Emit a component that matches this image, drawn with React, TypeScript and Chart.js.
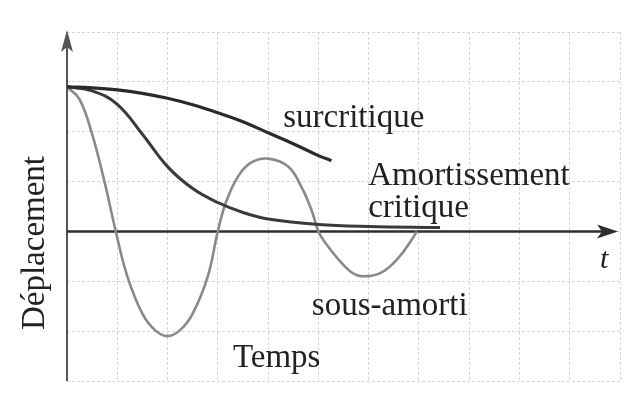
import React, { useEffect, useRef } from "react";
import { Chart, registerables } from "chart.js";

Chart.register(...registerables);

// Time samples (grid units) and displacement values
const surcritiqueT = [0, 0.5, 1, 1.5, 2, 2.5, 3, 3.5, 4, 4.5, 5, 5.26];
const surcritiqueY = [2.9, 2.88, 2.84, 2.77, 2.67, 2.54, 2.38, 2.2, 1.98, 1.76, 1.52, 1.42];

const critiqueT = [0, 0.5, 1, 1.5, 2, 2.5, 3, 3.5, 4, 5, 6, 7.42];
const critiqueY = [2.9, 2.82, 2.55, 1.95, 1.3, 0.86, 0.58, 0.38, 0.25, 0.14, 0.1, 0.08];

const sousAmortiT = [
  0, 0.25, 0.5, 0.75, 0.97, 1.2, 1.5, 1.75, 2.0, 2.25, 2.5, 2.8, 3.0, 3.16, 3.4, 3.66, 4.0,
  4.4, 4.66, 4.86, 5.0, 5.12, 5.4, 5.66, 5.9, 6.26, 6.6, 6.86, 6.96,
];
const sousAmortiY = [
  2.9, 2.65, 1.95, 0.98, 0, -0.9, -1.65, -1.98, -2.1, -1.98, -1.65, -0.9, 0, 0.58, 1.1, 1.38, 1.46,
  1.3, 0.9, 0.44, 0, -0.2, -0.56, -0.82, -0.9, -0.82, -0.52, -0.16, 0,
];

const xMin = 0;
const xMax = 11;
const yMin = -3;
const yMax = 4;

const curveLabels = [
  { text: "surcritique", t: 4.3, y: 2.1 },
  { text: "Amortissement", t: 5.99, y: 0.93 },
  { text: "critique", t: 5.99, y: 0.29 },
  { text: "sous-amorti", t: 4.87, y: -1.67 },
  { text: "Temps", t: 3.3, y: -2.72 },
];
const yAxisTitle = "Déplacement";
const xAxisSymbol = "t";

const toPoints = (ts: number[], ys: number[]) => ts.map((t, i) => ({ x: t, y: ys[i] }));

export default function App() {
  const ref = useRef<HTMLCanvasElement | null>(null);

  useEffect(() => {
    if (!ref.current) return;

    const axesPlugin = {
      id: "axesArrows",
      beforeDatasetsDraw(chart: any) {
        const { ctx, chartArea, scales } = chart;
        const x0 = scales.x.getPixelForValue(0);
        const y0 = scales.y.getPixelForValue(0);
        ctx.save();
        // y axis
        ctx.strokeStyle = "#555";
        ctx.fillStyle = "#555";
        ctx.lineWidth = 2;
        ctx.beginPath();
        ctx.moveTo(x0, chartArea.bottom);
        ctx.lineTo(x0, chartArea.top + 12);
        ctx.stroke();
        ctx.beginPath();
        ctx.moveTo(x0, chartArea.top - 2);
        ctx.lineTo(x0 - 6, chartArea.top + 20);
        ctx.lineTo(x0, chartArea.top + 15);
        ctx.lineTo(x0 + 6, chartArea.top + 20);
        ctx.closePath();
        ctx.fill();
        // x axis
        ctx.strokeStyle = "#2e2e2e";
        ctx.fillStyle = "#2e2e2e";
        ctx.lineWidth = 2.4;
        const tip = chartArea.right - 2;
        ctx.beginPath();
        ctx.moveTo(x0, y0);
        ctx.lineTo(tip - 10, y0);
        ctx.stroke();
        ctx.beginPath();
        ctx.moveTo(tip, y0);
        ctx.lineTo(tip - 21, y0 - 7);
        ctx.lineTo(tip - 16, y0);
        ctx.lineTo(tip - 21, y0 + 7);
        ctx.closePath();
        ctx.fill();
        ctx.restore();
      },
      afterDraw(chart: any) {
        const { ctx, scales } = chart;
        ctx.save();
        ctx.fillStyle = "#222";
        ctx.font = "33px 'Liberation Serif'";
        ctx.textAlign = "left";
        ctx.textBaseline = "alphabetic";
        curveLabels.forEach((l) => {
          ctx.fillText(l.text, scales.x.getPixelForValue(l.t), scales.y.getPixelForValue(l.y));
        });
        ctx.font = "italic 30px 'Liberation Serif'";
        ctx.fillText(xAxisSymbol, 600, scales.y.getPixelForValue(-0.73));
        ctx.translate(44, 243);
        ctx.rotate(-Math.PI / 2);
        ctx.textAlign = "center";
        ctx.font = "33px 'Liberation Serif'";
        ctx.fillText(yAxisTitle, 0, 0);
        ctx.restore();
      },
    };

    const chart = new Chart(ref.current, {
      type: "line",
      data: {
        datasets: [
          {
            label: "surcritique",
            data: toPoints(surcritiqueT, surcritiqueY),
            borderColor: "#2a2a2a",
            borderWidth: 3.2,
            pointRadius: 0,
            tension: 0.4,
            order: 1,
          },
          {
            label: "critique",
            data: toPoints(critiqueT, critiqueY),
            borderColor: "#3a3a3a",
            borderWidth: 3,
            pointRadius: 0,
            tension: 0.4,
            order: 2,
          },
          {
            label: "sous-amorti",
            data: toPoints(sousAmortiT, sousAmortiY),
            borderColor: "#8a8a8a",
            borderWidth: 2.6,
            pointRadius: 0,
            tension: 0.4,
            order: 3,
          },
        ],
      },
      options: {
        animation: false,
        responsive: false,
        devicePixelRatio: 1,
        layout: { padding: { left: 67, right: 17, top: 32, bottom: 20 } },
        plugins: { legend: { display: false }, tooltip: { enabled: false } },
        scales: {
          x: {
            type: "linear",
            min: xMin,
            max: xMax,
            ticks: { display: false, stepSize: 1 },
            grid: { color: "#d6d6d6", lineWidth: 1, drawTicks: false },
            border: { display: false, dash: [3, 2] },
          },
          y: {
            type: "linear",
            min: yMin,
            max: yMax,
            ticks: { display: false, stepSize: 1 },
            grid: { color: "#d6d6d6", lineWidth: 1, drawTicks: false },
            border: { display: false, dash: [3, 2] },
          },
        },
      },
      plugins: [axesPlugin],
    } as any);

    return () => chart.destroy();
  }, []);

  return (
    <div style={{ position: "absolute", left: 0, top: 0, width: 637, height: 401, background: "#fff" }}>
      <canvas ref={ref} width={637} height={401} />
    </div>
  );
}
